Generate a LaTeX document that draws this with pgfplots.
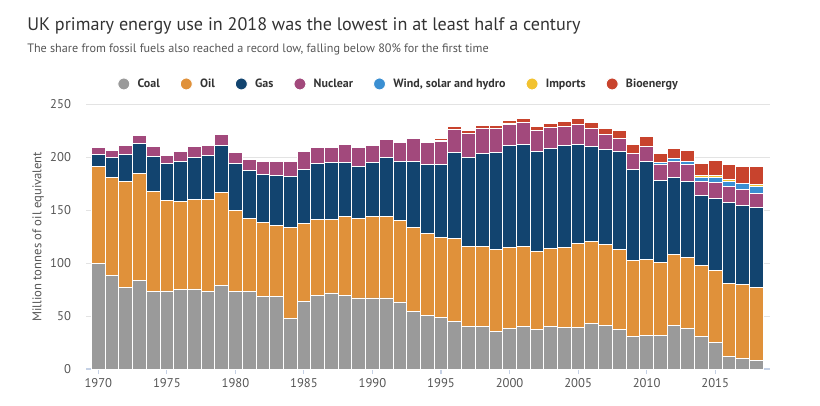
\documentclass[border=0pt]{standalone}
\usepackage{fontspec}
\setmainfont{PT Sans}
\usepackage{pgfplots}
\pgfplotsset{compat=1.18}
\usepackage{pgfplotstable}
\definecolor{coal}{HTML}{9A9A9A}
\definecolor{oil}{HTML}{E0913A}
\definecolor{gas}{HTML}{12446F}
\definecolor{nuc}{HTML}{A2497C}
\definecolor{wind}{HTML}{3A8FD2}
\definecolor{imp}{HTML}{F2C230}
\definecolor{bio}{HTML}{C8432D}
\definecolor{titlec}{HTML}{333333}
\definecolor{subc}{HTML}{555555}
\definecolor{tickc}{HTML}{555555}
\definecolor{gridc}{HTML}{E3E3E3}
\definecolor{axisc}{HTML}{C5D1E5}
\pgfplotstableread{
year coal oil gas nuc wind imp bio
1970 99.4 92.1 11.0 6.7 0 0 0
1971 88.0 93.0 19.0 6.3 0 0 0
1972 76.9 100.3 25.6 8.2 0 0 0
1973 83.2 101.6 28.2 7.6 0 0 0
1974 72.8 94.9 33.3 9.0 0 0 0
1975 73.7 85.5 35.1 7.3 0 0 0
1976 74.7 83.5 38.0 9.2 0 0 0
1977 75.6 84.5 39.9 10.0 0 0 0
1978 72.8 87.3 41.5 9.4 0 0 0
1979 78.5 88.3 44.2 10.5 0 0 0
1980 72.8 76.9 44.6 9.8 0 0 0
1981 72.8 69.3 45.6 10.1 0 0 0
1982 68.4 69.9 45.6 12.0 0 0 0
1983 68.4 67.0 47.5 13.0 0 0 0
1984 48.1 85.4 48.5 13.9 0 0 0
1985 64.2 73.1 51.0 17.1 0 0 0
1986 69.9 71.2 53.2 14.9 0 0 0
1987 71.8 69.3 54.2 13.9 0 0 0
1988 69.9 73.8 51.6 16.7 0 0 0
1989 67.1 75.0 49.4 17.7 0 0 0
1990 67.1 76.6 51.6 15.7 0 0 0
1991 67.1 76.6 56.3 16.8 0 0 0
1992 63.3 76.9 56.0 17.7 0 1.2 0
1993 54.7 78.8 62.7 21.5 0 1.2 0
1994 50.9 76.9 65.6 20.5 0 1.2 1.2
1995 49.0 75.0 69.4 21.5 0 1.2 1.2
1996 45.3 77.8 81.6 21.6 0 0 2.8
1997 40.5 75.6 83.9 22.5 0 0 2.8
1998 40.5 75.6 87.7 23.4 0 0 3.2
1999 35.8 76.9 92.0 22.5 0 0 3.2
2000 38.6 76.6 95.8 20.0 0 1.4 2.2
2001 40.5 75.6 95.9 20.9 0 0 3.5
2002 37.7 73.1 94.6 19.9 0 0 3.5
2003 40.5 73.1 94.6 20.0 0 0 3.6
2004 38.9 75.7 96.4 18.1 0 0 4.4
2005 39.6 78.8 93.9 18.7 0 0 5.3
2006 43.4 77.2 89.8 17.1 0 0 5.4
2007 40.8 76.6 90.2 13.9 0 0 5.7
2008 37.7 75.3 92.7 12.3 0 0 7.3
2009 31.0 71.2 86.1 15.5 0 0 8.2
2010 32.0 71.2 93.0 13.9 0 0 9.5
2011 32.0 68.3 77.9 15.2 1.9 0 7.9
2012 40.8 67.1 73.1 14.9 2.8 0 9.5
2013 38.6 66.5 72.1 16.2 2.5 0 10.1
2014 31.0 66.5 66.4 13.3 3.8 1.6 11.4
2015 25.3 67.4 68.4 15.2 4.7 1.9 13.9
2016 12.0 68.4 76.9 15.2 4.7 1.6 14.2
2017 10.1 69.3 74.7 15.5 5.7 0 15.8
2018 8.2 68.4 75.6 13.3 7.0 1.5 17.1
}\energy

\begin{document}
\begin{tikzpicture}
\path (0,0) rectangle (615pt,303.75pt);
\node[anchor=base west, inner sep=0pt, text=titlec, font=\fontsize{13.6}{16}\selectfont] at (20.25pt,281.25pt) {UK primary energy use in 2018 was the lowest in at least half a century};
\node[anchor=base west, inner sep=0pt, text=subc, font=\fontsize{9.13}{11}\selectfont] at (20.25pt,264.75pt) {The share from fossil fuels also reached a record low, falling below 80\% for the first time};
\begin{axis}[
  at={(64.5pt,27pt)}, anchor=south west,
  scale only axis, width=513pt, height=198.5pt,
  xmin=1969.1, xmax=2019, ymin=0, ymax=250,
  ybar stacked, bar width=1,
  every axis plot post/.append style={draw=white, line width=0.7pt,
    legend image code/.code={\fill (0pt,0pt) circle (4.5pt);}},
  axis x line*=bottom, axis y line*=left,
  y axis line style={draw=none},
  x axis line style={draw=axisc, line width=1pt},
  xtick={1970,1975,...,2015},
  ytick={0,50,...,250},
  tick align=outside,
  major tick length=3.75pt,
  xtick style={draw=axisc, line width=0.8pt},
  ytick style={draw=none},
  ymajorgrids, grid style={draw=gridc, line width=0.8pt},
  /pgf/number format/assume math mode=true,
  /pgf/number format/1000 sep={},
  tick label style={text=tickc, font=\fontsize{9.5}{11}\selectfont},
  yticklabel style={xshift=-4pt},
  ylabel={Million tonnes of oil equivalent},
  ylabel style={at={(axis description cs:-0.07,0.5)}, anchor=center, text=tickc, font=\fontsize{9.5}{11}\selectfont},
  legend columns=7,
  legend style={at={(axis description cs:0.4575,1.077)}, anchor=center, draw=none, fill=none,
    font=\bfseries\fontsize{9.0}{11}\selectfont, text=titlec,
    /tikz/every even column/.append style={column sep=13pt},
    /tikz/every odd column/.append style={column sep=3.5pt}},
  legend cell align=left,
]
\addplot[fill=coal] table[x=year,y=coal]{\energy};
\addplot[fill=oil] table[x=year,y=oil]{\energy};
\addplot[fill=gas] table[x=year,y=gas]{\energy};
\addplot[fill=nuc] table[x=year,y=nuc]{\energy};
\addplot[fill=wind] table[x=year,y=wind]{\energy};
\addplot[fill=imp] table[x=year,y=imp]{\energy};
\addplot[fill=bio] table[x=year,y=bio]{\energy};
\legend{Coal,Oil,Gas,Nuclear,{Wind, solar and hydro},Imports,Bioenergy}
\end{axis}
\end{tikzpicture}
\end{document}
